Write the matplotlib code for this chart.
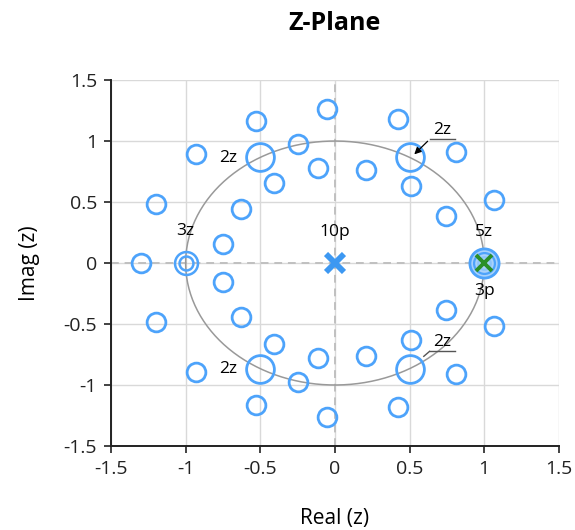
import matplotlib.pyplot as plt
import numpy as np

plt.rcParams['font.family'] = ['Open Sans', 'DejaVu Sans']

# zeros in the upper half plane (real, imag, multiplicity); lower half is the conjugate
zeros_re = [-0.05, -0.526, 0.422, -0.933, -0.5, -0.248, -0.114, -0.41, -1.2, -0.63, -0.75,
            0.5, 0.813, 0.206, 0.507, 1.063, 0.746]
zeros_im = [1.265, 1.165, 1.18, 0.89, 0.866, 0.975, 0.775, 0.66, 0.48, 0.44, 0.155,
            0.866, 0.91, 0.765, 0.632, 0.52, 0.388]
zeros_mult = [1, 1, 1, 1, 2, 1, 1, 1, 1, 1, 1, 2, 1, 1, 1, 1, 1]

# zeros on the real axis
real_zeros = [-1.297, -1.0, 1.0]
real_mult = [1, 3, 5]

# poles
poles_re = [0.0, 1.0]
poles_im = [0.0, 0.0]
poles_mult = [10, 3]

blue = '#4da3fb'
xblue = '#3d98f2'
green = '#2a8f2a'

fig = plt.figure(figsize=(5.75, 5.3), dpi=100)
ax = fig.add_axes([0.193, 0.1585, 0.779, 0.6905])

# unit circle
t = np.linspace(0, 2 * np.pi, 400)
ax.plot(np.cos(t), np.sin(t), color='#999999', lw=1.1, zorder=2)
ax.axhline(0, color='#c0c0c0', lw=1.4, ls=(0, (4, 3)), zorder=1)
ax.axvline(0, color='#c0c0c0', lw=1.4, ls=(0, (4, 3)), zorder=1)


def ring(x, y, m):
    # draw a zero with multiplicity m as one or more rings
    if m == 1:
        ax.plot(x, y, 'o', ms=13.5, mfc='none', mec=blue, mew=2.0, zorder=3)
    elif m == 2:
        ax.plot(x, y, 'o', ms=20, mfc='none', mec=blue, mew=2.0, zorder=3)
    elif m == 3:
        ax.plot(x, y, 'o', ms=16.5, mfc='none', mec=blue, mew=1.8, zorder=3)
        ax.plot(x, y, 'o', ms=10, mfc='none', mec=blue, mew=1.8, zorder=3)
    else:
        ax.plot(x, y, 'o', ms=21, mfc='#a9d2fb', mec=blue, mew=2.0, zorder=3)
        ax.plot(x, y, 'o', ms=15, mfc='none', mec=blue, mew=1.6, zorder=3)
        ax.plot(x, y, 'o', ms=9, mfc='none', mec='#8cc4fb', mew=1.6, zorder=3)


for re, im, m in zip(zeros_re, zeros_im, zeros_mult):
    ring(re, im, m)
    ring(re, -im, m)
for re, m in zip(real_zeros, real_mult):
    ring(re, 0.0, m)

ax.plot(poles_re[0], poles_im[0], 'x', ms=13, mec=xblue, mew=4.2, zorder=4)
ax.plot(poles_re[1], poles_im[1], 'x', ms=12, mec=green, mew=2.8, zorder=4)

# multiplicity labels
lab_fs = 12.5
ax.text(-1.0, 0.262, '3z', ha='center', va='center', fontsize=lab_fs)
ax.text(0.0, 0.252, '10p', ha='center', va='center', fontsize=lab_fs)
ax.text(1.0, 0.252, '5z', ha='center', va='center', fontsize=lab_fs)
ax.text(1.0, -0.232, '3p', ha='center', va='center', fontsize=lab_fs)
ax.text(-0.717, 0.861, '2z', ha='center', va='center', fontsize=lab_fs)
ax.text(-0.717, -0.871, '2z', ha='center', va='center', fontsize=lab_fs)

# callouts with underline leader
ax.text(0.715, 1.088, '2z', ha='center', va='center', fontsize=lab_fs)
ax.plot([0.634, 0.802], [1.014, 1.014], color='#555555', lw=1.0, zorder=5)
ax.annotate('', xy=(0.518, 0.875), xytext=(0.634, 1.014),
            arrowprops=dict(arrowstyle='-|>', color='black', lw=0.9, mutation_scale=10), zorder=5)
ax.text(0.715, -0.65, '2z', ha='center', va='center', fontsize=lab_fs)
ax.plot([0.634, 0.802], [-0.724, -0.724], color='#555555', lw=1.0, zorder=5)
ax.plot([0.634, 0.595], [-0.724, -0.765], color='#555555', lw=1.0, zorder=5)

ax.set_xlim(-1.5, 1.5)
ax.set_ylim(-1.5, 1.5)
ticks = [-1.5, -1, -0.5, 0, 0.5, 1, 1.5]
tick_labels = ['-1.5', '-1', '-0.5', '0', '0.5', '1', '1.5']
ax.set_xticks(ticks)
ax.set_xticklabels(tick_labels)
ax.set_yticks(ticks)
ax.set_yticklabels(tick_labels)
ax.tick_params(labelsize=14, length=5, width=1.2, direction='out', colors='#222222', pad=5)
ax.grid(True, color='#d9d9d9', lw=1.0)
ax.set_axisbelow(True)
for s in ['top', 'right']:
    ax.spines[s].set_visible(False)
for s in ['left', 'bottom']:
    ax.spines[s].set_color('#222222')
    ax.spines[s].set_linewidth(1.4)

ax.set_xlabel('Real (z)', fontsize=15, va='center')
ax.xaxis.set_label_coords(0.5, -0.197)
ax.set_ylabel('Imag (z)', fontsize=15, va='center')
ax.yaxis.set_label_coords(-0.181, 0.5)
fig.text(335 / 575, 1 - 23 / 530, 'Z-Plane', ha='center', va='center',
         fontsize=18, fontweight='bold')

fig.savefig('out.png', dpi=100)
